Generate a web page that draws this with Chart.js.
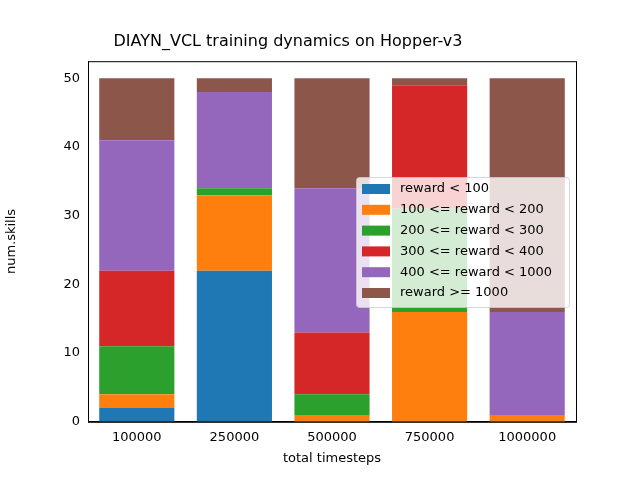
<!DOCTYPE html>
<html>
<head>
<meta charset="utf-8">
<script src="https://cdn.jsdelivr.net/npm/chart.js@4/dist/chart.umd.min.js"></script>
<style>html,body{margin:0;padding:0;background:#fff}</style>
</head>
<body>
<canvas id="c" width="640" height="480" style="width:640px;height:480px"></canvas>
<script>
// 資料
const timesteps = ['100000', '250000', '500000', '750000', '1000000'];
const seriesLabels = ['reward < 100', '100 <= reward < 200', '200 <= reward < 300',
                      '300 <= reward < 400', '400 <= reward < 1000', 'reward >= 1000'];
const below100 = [2, 22, 0, 0, 0];
const r100to200 = [2, 11, 1, 16, 1];
const r200to300 = [7, 1, 3, 15, 0];
const r300to400 = [11, 0, 9, 18, 0];
const r400to1000 = [19, 14, 21, 0, 15];
const above1000 = [9, 2, 16, 1, 34];
const colors = ['#1f77b4', '#ff7f0e', '#2ca02c', '#d62728', '#9467bd', '#8c564b'];
const seriesValues = [below100, r100to200, r200to300, r300to400, r400to1000, above1000];

const FONT = 'DejaVu Sans';

// 圖內圖例 (matplotlib 風格)
const innerLegend = {
    id: 'innerLegend',
    afterDatasetsDraw(chart) {
        const ctx = chart.ctx;
        const x = 356, y = 177, w = 213, h = 130;
        ctx.save();
        ctx.fillStyle = 'rgba(255,255,255,0.8)';
        ctx.strokeStyle = 'rgba(204,204,204,0.8)';
        ctx.lineWidth = 1;
        ctx.beginPath();
        ctx.roundRect(x + 0.5, y + 0.5, w, h, 3);
        ctx.fill();
        ctx.stroke();
        ctx.font = '13px ' + FONT;
        ctx.textBaseline = 'middle';
        seriesLabels.forEach((lab, i) => {
            const cy = y + 12 + i * 20.8;
            ctx.fillStyle = colors[i];
            ctx.fillRect(x + 6, cy - 5, 28, 10);
            ctx.fillStyle = '#000';
            ctx.fillText(lab, x + 44, cy);
        });
        ctx.restore();
    }
};

new Chart(document.getElementById('c'), {
    type: 'bar',
    data: {
        labels: timesteps,
        datasets: seriesLabels.map((lab, i) => ({
            label: lab,
            data: seriesValues[i],
            backgroundColor: colors[i],
            borderWidth: 0,
            barPercentage: 0.77,
            categoryPercentage: 1
        }))
    },
    options: {
        responsive: false,
        animation: false,
        devicePixelRatio: 1,
        layout: { padding: { left: 0, right: 64, top: 0, bottom: 0 } },
        plugins: {
            legend: { display: false },
            tooltip: { enabled: false },
            title: {
                display: true,
                text: 'DIAYN_VCL training dynamics on Hopper-v3',
                color: '#000',
                font: { family: FONT, size: 16, weight: 'normal' },
                padding: { top: 32, bottom: 10 }
            }
        },
        scales: {
            x: {
                stacked: true,
                grid: { display: false, drawTicks: true, tickLength: 5, tickColor: '#000' },
                border: { color: '#000' },
                ticks: { color: '#000', font: { family: FONT, size: 13 } },
                title: { display: true, text: 'total timesteps', color: '#000',
                         font: { family: FONT, size: 13 }, padding: { top: 2, bottom: 14 } }
            },
            y: {
                stacked: true,
                min: 0,
                max: 52.5,
                afterFit(s) { s.width = 88; },
                afterBuildTicks(s) { s.ticks = [0, 10, 20, 30, 40, 50].map(v => ({ value: v })); },
                grid: { display: false, drawTicks: true, tickLength: 5, tickColor: '#000' },
                border: { color: '#000' },
                ticks: { color: '#000', font: { family: FONT, size: 13 } },
                title: { display: true, text: 'num.skills', color: '#000',
                         font: { family: FONT, size: 13 } }
            }
        }
    },
    plugins: [innerLegend, {
        id: 'frame',
        afterDraw(chart) {
            const a = chart.chartArea, ctx = chart.ctx;
            ctx.save();
            ctx.strokeStyle = '#000';
            ctx.lineWidth = 1;
            ctx.strokeRect(a.left + 0.5, a.top + 0.5, a.right - a.left, a.bottom - a.top);
            ctx.restore();
        }
    }]
});
</script>
</body>
</html>
